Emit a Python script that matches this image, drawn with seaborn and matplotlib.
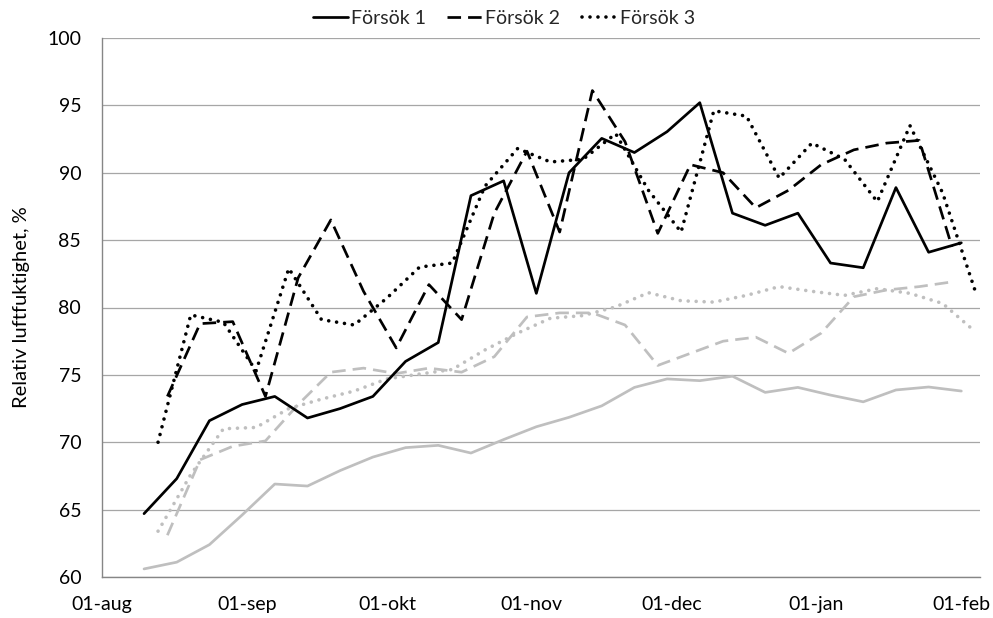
import matplotlib
matplotlib.use("Agg")
import matplotlib.pyplot as plt
import numpy as np
import pandas as pd
import seaborn as sns

# ---- data ----
month_ticks = ["2011-08-01", "2011-09-01", "2011-10-01", "2011-11-01",
               "2011-12-01", "2012-01-01", "2012-02-01"]
month_labels = ["01-aug", "01-sep", "01-okt", "01-nov", "01-dec", "01-jan", "01-feb"]

f1_start, f1_n = "2011-08-10", 26
f2_start, f2_n = "2011-08-15", 25
f3_start, f3_n = "2011-08-13", 26

f1_black = [64.7, 67.3, 71.6, 72.8, 73.4, 71.8, 72.5, 73.4, 76.0, 77.4, 88.3, 89.4, 81.05,
            90.0, 92.55, 91.5, 93.05, 95.2, 87.0, 86.1, 87.0, 83.3, 82.95, 88.9, 84.1, 84.8]
f1_gray = [60.6, 61.1, 62.4, 64.6, 66.9, 66.75, 67.9, 68.9, 69.6, 69.77, 69.2, 70.2, 71.15,
           71.85, 72.7, 74.07, 74.7, 74.57, 74.9, 73.7, 74.07, 73.5, 73.0, 73.88, 74.1, 73.8]
f2_black = [73.4, 78.8, 78.95, 73.4, 82.2, 86.5, 81.2, 77.0, 81.7, 79.1, 87.0, 91.6, 85.6,
            96.1, 92.3, 85.5, 90.6, 90.0, 87.4, 88.7, 90.6, 91.7, 92.2, 92.4, 84.5]
f2_gray = [63.1, 68.7, 69.7, 70.1, 72.8, 75.2, 75.5, 75.1, 75.5, 75.2, 76.35, 79.3, 79.6,
           79.6, 78.7, 75.7, 76.6, 77.5, 77.8, 76.6, 78.1, 80.8, 81.3, 81.55, 81.9]
f3_black = [70.0, 79.45, 78.9, 75.3, 82.9, 79.1, 78.7, 80.7, 83.0, 83.3, 89.0, 91.8, 90.8,
            91.0, 92.9, 88.7, 85.6, 94.6, 94.2, 89.6, 92.2, 91.0, 87.85, 93.5, 88.5, 81.2]
f3_gray = [63.4, 67.6, 71.0, 71.1, 72.5, 73.2, 73.8, 74.7, 75.06, 75.4, 76.85, 78.1, 79.2,
           79.4, 80.05, 81.1, 80.5, 80.4, 80.9, 81.55, 81.2, 80.9, 81.4, 81.05, 80.3, 78.2]

labels = ["Försök 1", "Försök 2", "Försök 3"]

# ---- style ----
sns.set_theme(style="white")
plt.rcParams['font.family'] = ['Lato', 'DejaVu Sans']
FS = 14

W, H = 993, 618
fig = plt.figure(figsize=(W / 100, H / 100), dpi=100)
ax = fig.add_axes([102 / W, 1 - 577 / H, (980 - 102) / W, (577 - 38) / H])

BLACK = "#000000"
GRAY = "#bfbfbf"
LW = 1.95
LW_DOT = 2.6
dash = (0, (5.0, 2.6))
dot = (0, (0.01, 2.2))

d1 = pd.date_range(f1_start, periods=f1_n, freq="7D")
d2 = pd.date_range(f2_start, periods=f2_n, freq="7D")
d3 = pd.date_range(f3_start, periods=f3_n, freq="7D")

series = [
    (d1, f1_gray, GRAY, "-", None),
    (d2, f2_gray, GRAY, dash, None),
    (d3, f3_gray, GRAY, dot, None),
    (d1, f1_black, BLACK, "-", labels[0]),
    (d2, f2_black, BLACK, dash, labels[1]),
    (d3, f3_black, BLACK, dot, labels[2]),
]

handles = []
for dates, vals, color, ls, lab in series:
    df = pd.DataFrame({"date": dates, "rh": vals})
    is_dot = ls is dot
    sns.lineplot(data=df, x="date", y="rh", ax=ax, color=color,
                 linewidth=LW_DOT if is_dot else LW,
                 linestyle=ls, dash_capstyle="round" if is_dot else "butt",
                 solid_capstyle="round", solid_joinstyle="round", legend=False)
    line = ax.lines[-1]
    if lab is not None:
        line.set_label(lab)
        handles.append(line)

# axes
ax.set_ylim(60, 100)
ax.set_yticks(np.arange(60, 101, 5))
ax.set_xlim(pd.Timestamp("2011-08-01"), pd.Timestamp("2012-02-05"))
ax.set_xticks(pd.to_datetime(month_ticks))
ax.set_xticklabels(month_labels)

ax.yaxis.grid(True, color="#a6a6a6", linewidth=0.9)
ax.xaxis.grid(False)
ax.set_axisbelow(True)
for s in ["top", "right"]:
    ax.spines[s].set_visible(False)
for s in ["left", "bottom"]:
    ax.spines[s].set_color("#868686")
    ax.spines[s].set_linewidth(1.0)

ax.tick_params(axis="both", direction="out", length=4, width=0.9, color="#868686",
               labelsize=FS, labelcolor="#000000")
ax.tick_params(axis="y", pad=11)
ax.tick_params(axis="x", pad=10)
ax.set_xlabel("")
ax.set_ylabel("Relativ luftfuktighet, %", fontsize=FS + 0.5, color="#000000")
ax.yaxis.set_label_coords(-0.082, 0.5)

fig.legend(handles=handles, labels=labels, loc="center", ncol=3,
           bbox_to_anchor=(504 / W, 1 - 18 / H), frameon=False, fontsize=FS,
           handlelength=1.8, handletextpad=0.15, columnspacing=1.1)

fig.savefig("out.png", dpi=100)
